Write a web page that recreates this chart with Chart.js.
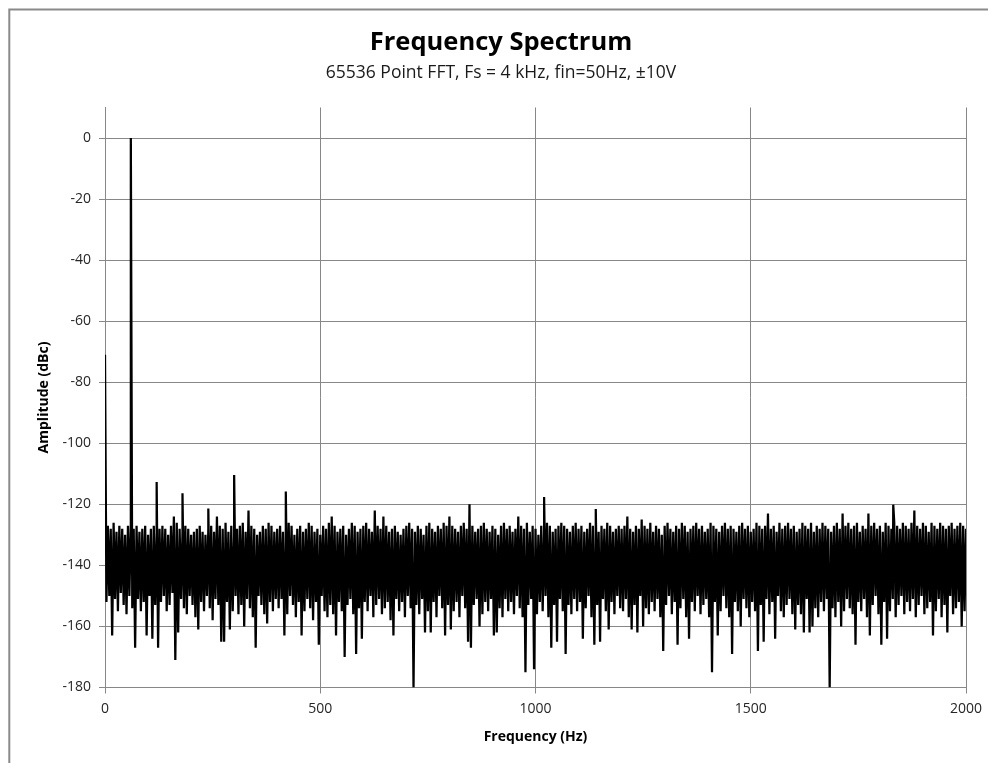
<!DOCTYPE html>
<html>
<head>
<meta charset="utf-8">
<script src="https://cdn.jsdelivr.net/npm/chart.js@4.4.0/dist/chart.umd.min.js"></script>
<style>
  body { margin: 0; background: #fff; }
  #wrap { width: 992px; height: 763px; }
</style>
</head>
<body>
<div id="wrap"><canvas id="spectrum"></canvas></div>
<script>
// FFT bin spacing used for the noise floor points (Hz)
const binHz = 2000 / 600;

// tones sticking out of the floor
const spikeHz = [60, 120, 180, 240, 300, 420, 1020, 1140, 1831];
const spikeDb = [0, -112.7, -116.4, -121.4, -110.4, -115.8, -117.6, -121.5, -120.1];

// noise floor, upper edge (even bins) - first value is the DC bin
const floorTop = [
  -71,-127,-128,-126,-129,-127,-128,-130,-127,-126,-128,-127,-129,-128,-127,-130,-128,-127,-129,-128,
  -127,-128,-130,-127,-124,-126,-128,-129,-127,-128,-130,-129,-128,-127,-129,-130,-128,-127,-129,-124,
  -127,-128,-126,-129,-127,-130,-128,-127,-126,-129,-122,-127,-128,-130,-129,-127,-128,-126,-127,-129,
  -128,-127,-129,-128,-126,-127,-130,-128,-127,-129,-128,-126,-127,-129,-128,-130,-127,-128,-126,-124,
  -127,-129,-128,-127,-130,-128,-126,-127,-129,-128,-127,-126,-128,-129,-122,-127,-128,-124,-127,-129,
  -128,-127,-129,-130,-128,-127,-126,-128,-129,-127,-128,-130,-127,-126,-128,-129,-127,-128,-126,-127,
  -124,-127,-128,-129,-127,-126,-128,-120,-127,-129,-128,-127,-126,-128,-129,-127,-128,-130,-127,-126,
  -128,-127,-129,-128,-124,-127,-128,-126,-129,-127,-128,-130,-127,-128,-126,-127,-129,-128,-127,-126,
  -127,-128,-129,-127,-126,-128,-127,-129,-128,-126,-127,-128,-129,-127,-128,-126,-127,-129,-128,-127,
  -128,-127,-124,-128,-129,-127,-128,-125,-127,-128,-126,-129,-127,-128,-130,-127,-126,-128,-129,-127,
  -128,-126,-127,-129,-128,-127,-126,-128,-127,-129,-128,-126,-127,-128,-129,-127,-126,-128,-127,-128,
  -129,-127,-126,-128,-127,-129,-128,-126,-127,-128,-127,-123,-128,-127,-129,-126,-128,-127,-126,-128,
  -127,-129,-128,-126,-127,-128,-126,-129,-127,-128,-126,-127,-128,-129,-127,-126,-128,-123,-127,-126,
  -128,-127,-126,-129,-127,-128,-123,-127,-126,-128,-127,-129,-126,-127,-128,-126,-127,-128,-126,-127,
  -128,-126,-122,-127,-128,-126,-127,-129,-126,-127,-128,-126,-127,-128,-127,-126,-128,-127,-126,-127,
  -128
];

// noise floor, lower edge (odd bins)
const floorBottom = [
  -152,-150,-163,-151,-155,-149,-153,-156,-150,-154,-167,-151,-155,-152,-163,-150,-164,-153,-167,-152,
  -150,-155,-153,-149,-171,-162,-151,-154,-156,-150,-153,-157,-161,-152,-155,-150,-154,-158,-151,-153,
  -165,-165,-152,-161,-155,-150,-156,-153,-160,-151,-154,-157,-167,-150,-153,-156,-159,-152,-155,-151,
  -154,-151,-163,-156,-150,-153,-157,-152,-163,-155,-151,-154,-158,-152,-166,-150,-155,-157,-153,-156,
  -163,-152,-155,-170,-153,-151,-156,-169,-154,-164,-152,-155,-150,-157,-153,-151,-156,-154,-152,-158,
  -163,-151,-155,-152,-157,-150,-154,-180,-153,-156,-151,-162,-155,-162,-152,-157,-150,-154,-163,-153,
  -161,-155,-152,-157,-150,-154,-165,-167,-153,-151,-160,-156,-152,-155,-151,-163,-162,-154,-157,-151,
  -155,-152,-156,-150,-154,-157,-175,-153,-151,-174,-156,-152,-155,-150,-157,-167,-153,-165,-151,-155,
  -169,-153,-156,-151,-155,-152,-164,-154,-150,-157,-166,-153,-165,-151,-155,-161,-152,-156,-150,-154,
  -155,-151,-157,-161,-153,-162,-150,-160,-154,-156,-152,-155,-151,-157,-168,-153,-150,-156,-152,-166,
  -154,-151,-157,-164,-152,-155,-150,-156,-153,-151,-157,-175,-152,-163,-155,-150,-154,-157,-169,-152,
  -155,-160,-151,-154,-157,-152,-155,-168,-153,-165,-151,-156,-152,-164,-150,-155,-157,-153,-151,-156,
  -161,-153,-156,-162,-151,-162,-160,-154,-157,-152,-155,-151,-180,-154,-157,-152,-160,-155,-151,-154,
  -156,-166,-152,-155,-151,-157,-163,-153,-150,-156,-166,-152,-164,-155,-151,-157,-153,-150,-156,-152,
  -155,-151,-157,-153,-150,-156,-154,-152,-163,-155,-151,-157,-153,-162,-150,-156,-154,-152,-160,-155
];

const yTicks = { min: -180, max: 10, step: 20 };
const xTicks = { min: 0, max: 2000, step: 500 };

// build the point list: top/bottom alternate, then the tones merged in
const points = [];
floorTop.forEach((v, k) => {
  points.push({ x: 2 * k * binHz, y: v });
  if (k < floorBottom.length) points.push({ x: (2 * k + 1) * binHz, y: floorBottom[k] });
});
spikeHz.forEach((f, i) => points.push({ x: f, y: spikeDb[i] }));
points.sort((a, b) => a.x - b.x);

// grey frame edge of the chart object (left and top are in view)
const frame = {
  id: 'frame',
  beforeDraw(chart) {
    const ctx = chart.ctx;
    ctx.save();
    ctx.strokeStyle = '#8a8a8a';
    ctx.lineWidth = 2;
    ctx.beginPath();
    ctx.moveTo(9.3, 763);
    ctx.lineTo(9.3, 9.6);
    ctx.lineTo(988, 9.6);
    ctx.stroke();
    ctx.restore();
  }
};

Chart.defaults.font.family = '"Open Sans", Lato, sans-serif';
Chart.defaults.color = '#262626';

new Chart(document.getElementById('spectrum'), {
  type: 'line',
  data: {
    datasets: [{
      data: points,
      borderColor: '#000',
      borderWidth: 2.25,
      pointRadius: 0,
      tension: 0,
      fill: false
    }]
  },
  options: {
    responsive: true,
    maintainAspectRatio: false,
    animation: false,
    events: [],
    layout: { padding: { top: 10, left: 36, right: 26, bottom: 17.5 } },
    plugins: {
      legend: { display: false },
      tooltip: { enabled: false },
      title: {
        display: true,
        text: 'Frequency Spectrum',
        color: '#000',
        font: { size: 25.5, weight: 'bold', lineHeight: 1.2 },
        padding: { top: 17.2, bottom: 0 }
      },
      subtitle: {
        display: true,
        text: '65536 Point FFT, Fs = 4 kHz, fin=50Hz, \u00b110V',
        color: '#1a1a1a',
        font: { size: 17.5, lineHeight: 1.2 },
        padding: { top: 4.7, bottom: 24 }
      }
    },
    scales: {
      x: {
        type: 'linear',
        min: xTicks.min,
        max: xTicks.max,
        afterFit(scale) { scale.height = 58; },
        ticks: {
          stepSize: xTicks.step,
          padding: 7,
          maxRotation: 0,
          font: { size: 14 },
          callback: (v) => String(v)
        },
        grid: { color: '#878787', lineWidth: 1, tickLength: 6 },
        border: { color: '#878787', width: 1 },
        title: {
          display: true,
          text: 'Frequency (Hz)',
          color: '#000',
          font: { size: 14, weight: 'bold', lineHeight: 1.2 },
          padding: 0
        }
      },
      y: {
        min: yTicks.min,
        max: yTicks.max,
        afterFit(scale) { scale.width = 69; },
        ticks: { stepSize: yTicks.step, includeBounds: false, padding: 8, font: { size: 14 } },
        grid: { color: '#878787', lineWidth: 1, tickLength: 6 },
        border: { color: '#878787', width: 1 },
        title: {
          display: true,
          text: 'Amplitude (dBc)',
          color: '#000',
          font: { size: 14, weight: 'bold', lineHeight: 1.2 },
          padding: 0
        }
      }
    }
  },
  plugins: [frame]
});
</script>
</body>
</html>
